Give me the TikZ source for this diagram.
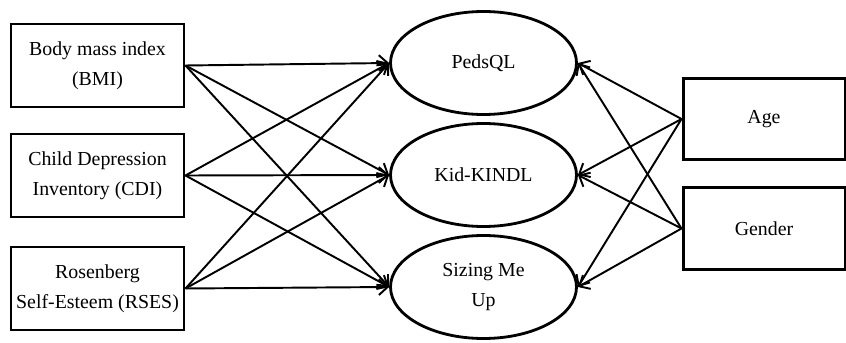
\documentclass[tikz,border=0pt]{standalone}
\usepackage{fontspec}
\setmainfont{Liberation Serif}
\usetikzlibrary{arrows.meta,shapes.geometric}
\tikzset{
	varbox/.style={draw, line width=1.7pt, align=center, inner sep=0pt,
		minimum width=3.46cm, minimum height=1.66cm},
	outbox/.style={draw, ellipse, line width=1.6pt, align=center, inner sep=0pt,
		minimum width=3.72cm, minimum height=2.06cm},
	effect/.style={-{Straight Barb[length=5pt,width=9pt]}, line width=1.1pt}
}
\begin{document}
\begin{tikzpicture}[font=\fontsize{11.3}{17}\selectfont]
		\useasboundingbox (0,0) rectangle (16.92,6.84);

		\node[varbox] (bmi) at (1.95,5.53) {Body mass index\\(BMI)};
		\node[varbox] (cdi) at (1.95,3.33) {Child Depression\\Inventory (CDI)};
		\node[varbox] (rses) at (1.95,1.07) {Rosenberg\\Self-Esteem (RSES)};

		\node[outbox] (peds) at (9.67,5.58) {PedsQL};
		\node[outbox] (kindl) at (9.67,3.34) {Kid-KINDL};
		\node[outbox] (sizing) at (9.67,1.10) {Sizing Me\\Up};

		\node[varbox, minimum width=3.24cm, minimum height=1.63cm] (age) at (15.28,4.46) {Age};
		\node[varbox, minimum width=3.24cm, minimum height=1.63cm] (gender) at (15.28,2.27) {Gender};

		\draw[effect] (bmi.east) -- (peds.west);
		\draw[effect] (bmi.east) -- (kindl.west);
		\draw[effect] (bmi.east) -- (sizing.west);
		\draw[effect] (cdi.east) -- (peds.west);
		\draw[effect] (cdi.east) -- (kindl.west);
		\draw[effect] (cdi.east) -- (sizing.west);
		\draw[effect] (rses.east) -- (peds.west);
		\draw[effect] (rses.east) -- (kindl.west);
		\draw[effect] (rses.east) -- (sizing.west);

		\draw[effect] (age.west) -- (peds.east);
		\draw[effect] (age.west) -- (kindl.east);
		\draw[effect] (age.west) -- (sizing.east);
		\draw[effect] (gender.west) -- (peds.east);
		\draw[effect] (gender.west) -- (kindl.east);
		\draw[effect] (gender.west) -- (sizing.east);
	\end{tikzpicture}
\end{document}
